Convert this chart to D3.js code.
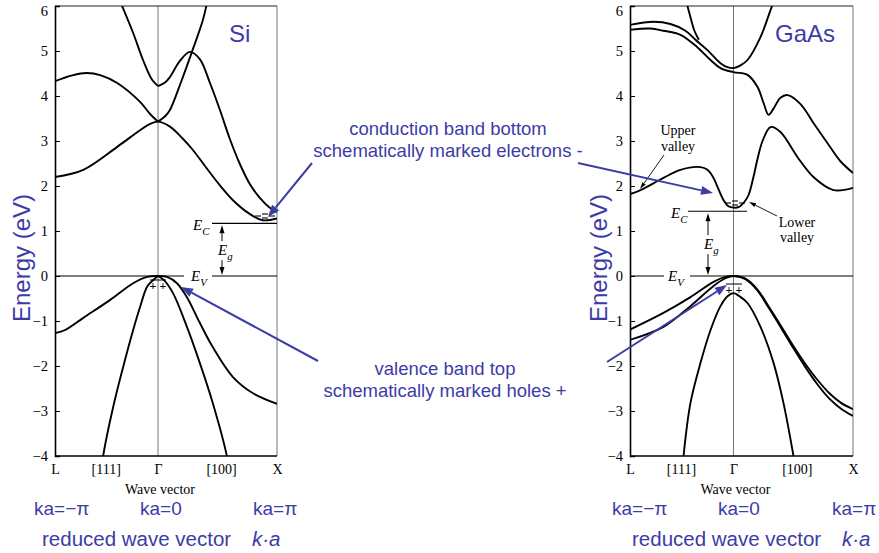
<!DOCTYPE html>
<html><head><meta charset="utf-8">
<script src="https://cdn.jsdelivr.net/npm/d3@7"></script>
<style>body{margin:0;background:#fff} svg{display:block}</style>
</head><body>
<svg id="c" width="879" height="553"></svg>
<script>
// ---------- data ----------
const energyTicks = [6,5,4,3,2,1,0,-1,-2,-3,-4];
const kTickLabels = ["L","[111]","Γ","[100]","X"];
const kTickPos = [-0.866,-0.44,0,0.53,1];
const bottomKa = ["ka=\u2212\u03c0","ka=0","ka=\u03c0"];

// Si bands [k, E]  (k: L=-0.866, Γ=0, X=1)
const siC1 = [[-0.866,2.2],[-0.628,2.36],[-0.343,2.87],[-0.151,3.24],[-0.067,3.38],[0,3.43],[0.1,3.32],[0.209,3.05],[0.293,2.8],[0.393,2.45],[0.494,2.1],[0.628,1.69],[0.77,1.38],[0.879,1.24],[1,1.28]];
const siC3L = [[-0.866,4.33],[-0.72,4.46],[-0.6,4.51],[-0.48,4.46],[-0.343,4.29],[-0.151,3.87],[-0.067,3.6],[0,3.43]];
const siC2R = [[0,3.43],[0.059,3.55],[0.1,3.69],[0.192,4.3],[0.285,4.98],[0.377,5.69],[0.41,6.05]];
const siC4L = [[-0.31,6.05],[-0.209,5.4],[-0.126,4.8],[-0.05,4.36],[0,4.22]];
const siC4R = [[0,4.22],[0.059,4.3],[0.1,4.42],[0.184,4.78],[0.268,4.98],[0.351,4.82],[0.435,4.3],[0.519,3.7],[0.603,3.05],[0.686,2.5],[0.77,2.05],[0.854,1.74],[0.937,1.52],[1,1.42]];
const siHH = [[-0.866,-1.27],[-0.78,-1.2],[-0.628,-0.93],[-0.402,-0.53],[-0.209,-0.16],[-0.092,-0.02],[0,0],[0.075,-0.02],[0.159,-0.16],[0.243,-0.47],[0.351,-1.04],[0.46,-1.58],[0.628,-2.24],[0.795,-2.6],[1,-2.84]];
const siLHL = [[0,0],[-0.04,-0.09],[-0.092,-0.24],[-0.151,-0.69],[-0.209,-1.2],[-0.293,-2.02],[-0.377,-2.91],[-0.46,-3.98],[-0.47,-4.2]];
const siLHR = [[0,0],[0.05,-0.09],[0.126,-0.38],[0.243,-1.13],[0.351,-1.93],[0.46,-2.82],[0.577,-3.98],[0.59,-4.2]];

// GaAs bands
const gaC1 = [[-0.866,1.82],[-0.778,1.91],[-0.586,2.18],[-0.444,2.36],[-0.276,2.42],[-0.218,2.36],[-0.167,2.18],[-0.134,1.98],[-0.084,1.69],[-0.042,1.55],[0,1.52],[0.042,1.53],[0.092,1.65],[0.126,1.8],[0.167,2.2],[0.201,2.6],[0.243,3.0],[0.31,3.31],[0.393,3.2],[0.536,2.64],[0.669,2.2],[0.837,1.91],[1,1.96]];
const gaU1 = [[-0.866,5.58],[-0.67,5.65],[-0.527,5.6],[-0.402,5.45],[-0.318,5.25],[-0.218,5.02],[-0.109,4.73],[-0.05,4.64],[0,4.62],[0.059,4.68],[0.117,4.8],[0.226,5.31],[0.31,5.91],[0.33,6.05]];
const gaU1Top = [[-0.39,6.05],[-0.36,5.75],[-0.327,5.45],[-0.29,5.25]];
const gaU2 = [[-0.866,5.47],[-0.695,5.5],[-0.586,5.45],[-0.444,5.36],[-0.301,5.08],[-0.192,4.8],[-0.109,4.62],[0,4.53],[0.117,4.47],[0.201,4.2],[0.251,3.85],[0.293,3.58],[0.335,3.72],[0.393,3.96],[0.452,4.02],[0.561,3.82],[0.669,3.4],[0.787,2.95],[0.895,2.55],[1,2.29]];
const gaHH = [[-0.866,-1.19],[-0.586,-0.82],[-0.36,-0.47],[-0.167,-0.13],[-0.067,-0.02],[0,0],[0.1,-0.06],[0.2,-0.3],[0.3,-0.7],[0.4,-1.12],[0.5,-1.55],[0.6,-1.95],[0.7,-2.3],[0.8,-2.6],[0.9,-2.82],[1,-2.96]];
const gaLH = [[-0.866,-1.42],[-0.586,-1.13],[-0.36,-0.67],[-0.167,-0.22],[-0.067,-0.05],[0,0],[0.1,-0.07],[0.2,-0.32],[0.3,-0.73],[0.4,-1.16],[0.5,-1.6],[0.6,-2.02],[0.7,-2.4],[0.8,-2.72],[0.9,-2.95],[1,-3.11]];
const gaSO = [[-0.418,-4.0],[-0.36,-2.82],[-0.276,-1.93],[-0.192,-1.2],[-0.109,-0.67],[-0.05,-0.45],[0,-0.38],[0.05,-0.45],[0.117,-0.6],[0.226,-1.13],[0.335,-1.93],[0.418,-2.82],[0.502,-4.0]];

const siEc = 1.17, gaEc = 1.44;

// ---------- drawing ----------
const svg = d3.select("#c");
const BLUE = "#3c3ca6";
const serif = "'Liberation Serif','Times New Roman',serif";
const sans = "'Liberation Sans',Arial,sans-serif";

function arrow(g, x1,y1,x2,y2,color,w,hl,hw){
  const a = Math.atan2(y2-y1,x2-x1);
  const bx = x2 - hl*Math.cos(a), by = y2 - hl*Math.sin(a);
  g.append("line").attr("x1",x1).attr("y1",y1).attr("x2",bx).attr("y2",by)
    .attr("stroke",color).attr("stroke-width",w);
  const px = -Math.sin(a)*hw/2, py = Math.cos(a)*hw/2;
  g.append("path").attr("d",`M${x2},${y2}L${bx+px},${by+py}L${bx-px},${by-py}Z`).attr("fill",color);
}

function sub(g, x, y, main, s, size, anchor){
  const t = g.append("text").attr("x",x).attr("y",y).attr("font-family",serif)
    .attr("font-style","italic").attr("font-size",size).attr("text-anchor",anchor||"start");
  t.append("tspan").text(main);
  t.append("tspan").attr("font-size",size*0.72).attr("dy",size*0.3).text(s);
  return t;
}

function panel(cfg){
  const x = d3.scaleLinear().domain([-0.866,1]).range([cfg.x0,cfg.x1]);
  const y = d3.scaleLinear().domain([-4,6]).range([456,6]);
  const g = svg.append("g");
  const id = "clip"+cfg.name;
  svg.append("defs").append("clipPath").attr("id",id).append("rect")
    .attr("x",cfg.x0).attr("y",6).attr("width",cfg.x1-cfg.x0).attr("height",450);

  g.append("line").attr("x1",x(0)).attr("x2",x(0)).attr("y1",6).attr("y2",456)
    .attr("stroke","#777").attr("stroke-width",1);

  g.append("line").attr("x1",cfg.x0).attr("x2",cfg.x1).attr("y1",6).attr("y2",6).attr("stroke","#222").attr("stroke-width",1.2);
  g.append("line").attr("x1",cfg.x1).attr("x2",cfg.x1).attr("y1",6).attr("y2",456).attr("stroke","#777").attr("stroke-width",1);
  g.append("line").attr("x1",cfg.x0).attr("x2",cfg.x1).attr("y1",456).attr("y2",456).attr("stroke","#000").attr("stroke-width",1.5);

  const ya = d3.axisLeft(y).tickValues(energyTicks).tickSize(-5).tickPadding(7)
    .tickFormat(d => d<0 ? "\u2212"+(-d) : String(d));
  const yg = g.append("g").attr("transform",`translate(${cfg.x0},0)`).call(ya);
  yg.select(".domain").attr("stroke","#000").attr("stroke-width",1.6);
  yg.selectAll("text").attr("font-family",serif).attr("font-size",14.5).attr("fill","#000")
    .attr("dy", d => d===6 ? "0.62em" : "0.32em");

  const xa = d3.axisBottom(x).tickValues(kTickPos).tickSize(0).tickPadding(8)
    .tickFormat((d,i)=>kTickLabels[i]);
  const xg = g.append("g").attr("transform","translate(0,456)").call(xa);
  xg.select(".domain").remove();
  xg.selectAll("text").attr("font-family",serif).attr("font-size",14).attr("fill","#000");
  g.append("text").attr("x",x(0)+2).attr("y",494).attr("text-anchor","middle")
    .attr("font-family",serif).attr("font-size",14).text("Wave vector");

  const line = d3.line().x(d=>x(d[0])).y(d=>y(d[1])).curve(d3.curveCatmullRom.alpha(0.5));
  const bg = g.append("g").attr("clip-path",`url(#${id})`);
  cfg.bands.forEach(b => bg.append("path").attr("d",line(b)).attr("fill","none")
    .attr("stroke","#000").attr("stroke-width",1.9));

  g.append("line").attr("x1",cfg.ecX0).attr("x2",cfg.ecX1).attr("y1",y(cfg.ec)).attr("y2",y(cfg.ec))
    .attr("stroke","#000").attr("stroke-width",1.1);
  cfg.evSegs.forEach(s => g.append("line").attr("x1",s[0]).attr("x2",s[1]).attr("y1",y(0)).attr("y2",y(0))
    .attr("stroke","#000").attr("stroke-width",1.1));
  sub(g, cfg.ecTx, y(cfg.ec)+7, "E","C",15);
  sub(g, cfg.evTx, y(0)+5, "E","V",15);
  const ax = cfg.egX, yt = y(cfg.ec)+2, yb = y(0)-1, ym = (yt+yb)/2;
  arrow(g, ax, ym-9, ax, yt, "#000", 1, 8, 5);
  arrow(g, ax, ym+10, ax, yb, "#000", 1, 8, 5);
  sub(g, ax-4, ym+5, "E","g",15);

  g.append("text").attr("x",cfg.titleX).attr("y",42).attr("font-family",sans).attr("font-size",24)
    .attr("fill",BLUE).text(cfg.title);
  g.append("text").attr("transform",`translate(${cfg.yTitleX},258) rotate(-90)`).attr("text-anchor","middle")
    .attr("font-family",sans).attr("font-size",24).attr("fill",BLUE).text("Energy  (eV)");
  cfg.kaX.forEach((px,i)=> g.append("text").attr("x",px).attr("y",515).attr("font-family",sans)
    .attr("font-size",19).attr("fill",BLUE).text(bottomKa[i]));
  g.append("text").attr("x",cfg.redX).attr("y",546).attr("font-family",sans)
    .attr("font-size",20.5).attr("fill",BLUE).text("reduced wave vector");
  g.append("text").attr("x",cfg.redX+210).attr("y",546).attr("font-family",sans)
    .attr("font-size",20.5).attr("font-style","italic").attr("fill",BLUE).text("k\u00b7a");
  return {g,x,y};
}

const si = panel({name:"si",x0:55,x1:277,bands:[siC1,siC3L,siC2R,siC4L,siC4R,siHH,siLHL,siLHR],
  ec:siEc, ecX0:212, ecX1:277, evSegs:[[55,184],[212,277]], ecTx:193, evTx:191, egX:222,
  title:"Si", titleX:229, yTitleX:30, kaX:[34,140,253], redX:42});
const ga = panel({name:"ga",x0:630,x1:853,bands:[gaC1,gaU1,gaU1Top,gaU2,gaHH,gaLH,gaSO],
  ec:gaEc, ecX0:688, ecX1:747, evSegs:[[630,664],[690,853]], ecTx:671, evTx:668, egX:708,
  title:"GaAs", titleX:775, yTitleX:607, kaX:[612,718,832], redX:632});

function marks(p, ex, ey, hx, hy){
  const g = p.g;
  [[-7,0],[0,-2],[0,2],[7,0]].forEach(d=> g.append("line").attr("x1",ex+d[0]-3).attr("x2",ex+d[0]+3)
    .attr("y1",ey+d[1]).attr("y2",ey+d[1]).attr("stroke","#000").attr("stroke-width",1.1));
  g.append("line").attr("x1",hx-8).attr("x2",hx+8).attr("y1",hy-6).attr("y2",hy-6).attr("stroke","#000").attr("stroke-width",1);
  [-5,5].forEach(d=> g.append("text").attr("x",hx+d).attr("y",hy+4).attr("text-anchor","middle")
    .attr("font-family",serif).attr("font-size",12).attr("font-weight","bold").text("+"));
}
marks(si, 265, 216, 158, 286);
marks(ga, 735, 203, 734, 290);

const lg = svg.append("g").attr("font-family",serif).attr("font-size",14).attr("text-anchor","middle");
lg.append("text").attr("x",678).attr("y",135).text("Upper");
lg.append("text").attr("x",678).attr("y",151).text("valley");
lg.append("text").attr("x",797).attr("y",227).text("Lower");
lg.append("text").attr("x",797).attr("y",242).text("valley");
arrow(svg, 664,155, 640,189, "#000", 0.9, 7, 4);
arrow(svg, 777,216, 749,202, "#000", 0.9, 7, 4);

const ag = svg.append("g");
const notes = [["conduction band bottom",448,135],["schematically marked electrons -",448,157],
               ["valence band top",445,375],["schematically marked holes +",445,397]];
notes.forEach(n => ag.append("text").attr("x",n[1]).attr("y",n[2]).attr("text-anchor","middle")
  .attr("font-family",sans).attr("font-size",18.5).attr("fill",BLUE).text(n[0]));
arrow(ag, 312,163, 268,217, BLUE, 2, 12, 9);
arrow(ag, 318,361, 181,287, BLUE, 2, 12, 9);
arrow(ag, 578,163, 713,193, BLUE, 2, 12, 9);
arrow(ag, 607,362, 727,285, BLUE, 2, 12, 9);
</script>
</body></html>
